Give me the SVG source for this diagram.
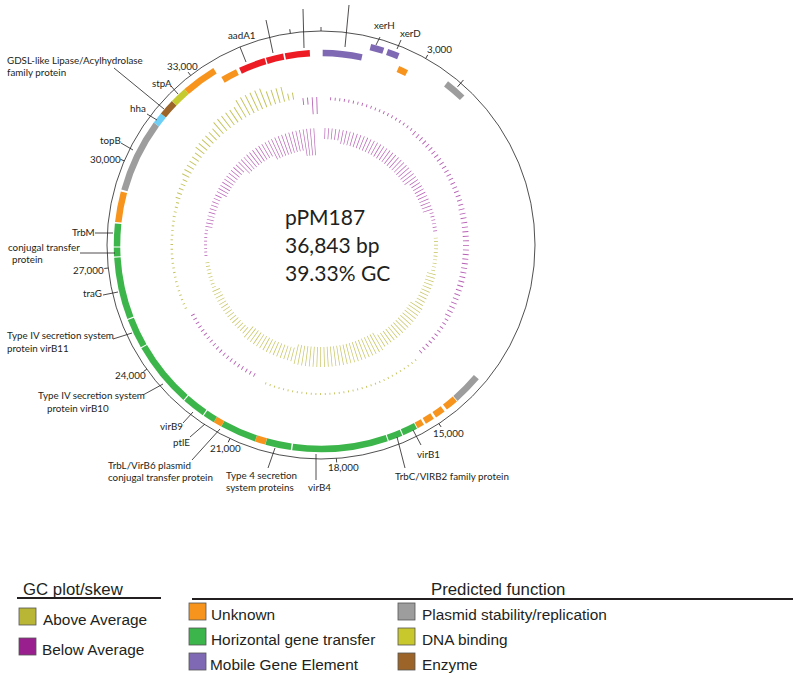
<svg xmlns="http://www.w3.org/2000/svg" width="800" height="679" viewBox="0 0 800 679">
<style>
.bb{fill:none;stroke:#3c3c3c;stroke-width:0.9}
.f{fill:none;stroke-width:6.5}
.o{stroke:#f7941d}.g{stroke:#3cb54a}.r{stroke:#ed1c24}.p{stroke:#7f69b4}.gr{stroke:#9d9d9d}.y{stroke:#c5cb2f}.b{stroke:#9c6428}.c{stroke:#6dcff6}
.ld{stroke:#231f20;stroke-width:0.8;fill:none}
.tk{stroke:#231f20;stroke-width:0.8}
.lbl{font-family:Lato,"Liberation Sans",sans-serif;font-size:9.8px;fill:#231f20}
.ctr{font-family:Lato,"Liberation Sans",sans-serif;font-size:21px;fill:#231f20}
.lgt{font-family:"Liberation Sans",Arial,sans-serif;font-size:16.8px;fill:#231f20}
.lg{font-family:"Liberation Sans",Arial,sans-serif;font-size:15.4px;fill:#231f20}
.sw{stroke:#555;stroke-width:0.8}
.gol{fill:none;stroke:#c4c35c}
.gpu{fill:none;stroke:#b65eb4}
.n2{stroke-dasharray:.35 1.45 .35 360}
.n4{stroke-dasharray:.35 1.45 .35 1.45 .35 1.45 .35 360}
.n5{stroke-dasharray:.35 1.45 .35 1.45 .35 1.45 .35 1.45 .35 360}
.n6{stroke-dasharray:.35 1.45 .35 1.45 .35 1.45 .35 1.45 .35 1.45 .35 360}
.n8{stroke-dasharray:.35 1.45 .35 1.45 .35 1.45 .35 1.45 .35 1.45 .35 1.45 .35 1.45 .35 360}
.n10{stroke-dasharray:.35 1.45 .35 1.45 .35 1.45 .35 1.45 .35 1.45 .35 1.45 .35 1.45 .35 1.45 .35 1.45 .35 360}
.n15{stroke-dasharray:.35 1.45 .35 1.45 .35 1.45 .35 1.45 .35 1.45 .35 1.45 .35 1.45 .35 1.45 .35 1.45 .35 1.45 .35 1.45 .35 1.45 .35 1.45 .35 1.45 .35 360}
.n20{stroke-dasharray:.35 1.45 .35 1.45 .35 1.45 .35 1.45 .35 1.45 .35 1.45 .35 1.45 .35 1.45 .35 1.45 .35 1.45 .35 1.45 .35 1.45 .35 1.45 .35 1.45 .35 1.45 .35 1.45 .35 1.45 .35 1.45 .35 1.45 .35 360}
.n25{stroke-dasharray:.35 1.45 .35 1.45 .35 1.45 .35 1.45 .35 1.45 .35 1.45 .35 1.45 .35 1.45 .35 1.45 .35 1.45 .35 1.45 .35 1.45 .35 1.45 .35 1.45 .35 1.45 .35 1.45 .35 1.45 .35 1.45 .35 1.45 .35 1.45 .35 1.45 .35 1.45 .35 1.45 .35 1.45 .35 360}
</style>
<rect width="800" height="679" fill="#ffffff"/>

<g id="gc-content">
<circle class="gol n4" cx="321" cy="245" r="149.5" stroke-width="3" pathLength="360" transform="rotate(-169.2 321 245)"/>
<circle class="gol n5" cx="321" cy="245" r="150.5" stroke-width="5" pathLength="360" transform="rotate(-162 321 245)"/>
<circle class="gol n6" cx="321" cy="245" r="152" stroke-width="8" pathLength="360" transform="rotate(-153 321 245)"/>
<circle class="gol n6" cx="321" cy="245" r="153.5" stroke-width="11" pathLength="360" transform="rotate(-142.2 321 245)"/>
<circle class="gol n6" cx="321" cy="245" r="155.5" stroke-width="15" pathLength="360" transform="rotate(-131.4 321 245)"/>
<circle class="gol n6" cx="321" cy="245" r="158" stroke-width="20" pathLength="360" transform="rotate(-120.6 321 245)"/>
<circle class="gol n4" cx="321" cy="245" r="155.5" stroke-width="15" pathLength="360" transform="rotate(-109.8 321 245)"/>
<circle class="gol n2" cx="321" cy="245" r="151.5" stroke-width="7" pathLength="360" transform="rotate(-102.6 321 245)"/>
<circle class="gpu n2" cx="321" cy="245" r="144.5" stroke-width="7" pathLength="360" transform="rotate(-97.2 321 245)"/>
<circle class="gpu n2" cx="321" cy="245" r="139.5" stroke-width="17" pathLength="360" transform="rotate(-93.6 321 245)"/>
<circle class="gpu n20" cx="321" cy="245" r="146.5" stroke-width="3" pathLength="360" transform="rotate(-86.4 321 245)"/>
<circle class="gpu n20" cx="321" cy="245" r="145.5" stroke-width="5" pathLength="360" transform="rotate(-50.4 321 245)"/>
<circle class="gpu n25" cx="321" cy="245" r="145" stroke-width="6" pathLength="360" transform="rotate(-14.4 321 245)"/>
<circle class="gpu n10" cx="321" cy="245" r="146" stroke-width="4" pathLength="360" transform="rotate(30.6 321 245)"/>
<circle class="gol n20" cx="321" cy="245" r="149" stroke-width="2" pathLength="360" transform="rotate(50.4 321 245)"/>
<circle class="gol n15" cx="321" cy="245" r="149" stroke-width="2" pathLength="360" transform="rotate(86.4 321 245)"/>
<circle class="gpu n20" cx="321" cy="245" r="146" stroke-width="4" pathLength="360" transform="rotate(117 321 245)"/>
<circle class="gol n20" cx="321" cy="245" r="149.25" stroke-width="2.5" pathLength="360" transform="rotate(154.8 321 245)"/>
</g>

<g id="gc-skew">
<circle class="gpu n8" cx="321" cy="245" r="115.5" stroke-width="3" pathLength="360" transform="rotate(-185.4 321 245)"/>
<circle class="gpu n10" cx="321" cy="245" r="113.5" stroke-width="7" pathLength="360" transform="rotate(-171 321 245)"/>
<circle class="gpu n10" cx="321" cy="245" r="111.5" stroke-width="11" pathLength="360" transform="rotate(-153 321 245)"/>
<circle class="gpu n10" cx="321" cy="245" r="109" stroke-width="16" pathLength="360" transform="rotate(-135 321 245)"/>
<circle class="gpu n10" cx="321" cy="245" r="106.5" stroke-width="21" pathLength="360" transform="rotate(-117 321 245)"/>
<circle class="gpu n4" cx="321" cy="245" r="103.5" stroke-width="27" pathLength="360" transform="rotate(-99 321 245)"/>
<circle class="gpu n5" cx="321" cy="245" r="111.5" stroke-width="11" pathLength="360" transform="rotate(-88.2 321 245)"/>
<circle class="gpu n25" cx="321" cy="245" r="110" stroke-width="14" pathLength="360" transform="rotate(-79.2 321 245)"/>
<circle class="gpu n10" cx="321" cy="245" r="112" stroke-width="10" pathLength="360" transform="rotate(-34.2 321 245)"/>
<circle class="gpu n6" cx="321" cy="245" r="115" stroke-width="4" pathLength="360" transform="rotate(-16.2 321 245)"/>
<circle class="gol n10" cx="321" cy="245" r="115" stroke-width="4" pathLength="360" transform="rotate(-3.6 321 245)"/>
<circle class="gol n10" cx="321" cy="245" r="114" stroke-width="9" pathLength="360" transform="rotate(14.4 321 245)"/>
<circle class="gol n15" cx="321" cy="245" r="113" stroke-width="14" pathLength="360" transform="rotate(32.4 321 245)"/>
<circle class="gol n25" cx="321" cy="245" r="112" stroke-width="20" pathLength="360" transform="rotate(59.4 321 245)"/>
<circle class="gol n15" cx="321" cy="245" r="113" stroke-width="14" pathLength="360" transform="rotate(104.4 321 245)"/>
<circle class="gol n15" cx="321" cy="245" r="114" stroke-width="8" pathLength="360" transform="rotate(131.4 321 245)"/>
<circle class="gol n8" cx="321" cy="245" r="115" stroke-width="4" pathLength="360" transform="rotate(158.4 321 245)"/>
</g>

<g id="backbone">
<circle class="bb" cx="321" cy="245" r="214"/>
</g>

<g id="features">
<g id="inner-strand">
<circle class="f p" cx="321" cy="245" r="192" pathLength="360" stroke-dasharray="11.8 360" transform="rotate(-89.5 321 245)"/>
<circle class="f o" cx="321" cy="245" r="192" pathLength="360" stroke-dasharray="2.9 360" transform="rotate(-66.4 321 245)"/>
<circle class="f r" cx="321" cy="245" r="192" pathLength="360" stroke-dasharray="8 360" transform="rotate(-114.8 321 245)"/>
<circle class="f r" cx="321" cy="245" r="192" pathLength="360" stroke-dasharray="5.2 360" transform="rotate(-106.4 321 245)"/>
<circle class="f r" cx="321" cy="245" r="192" pathLength="360" stroke-dasharray="7.4 360" transform="rotate(-100.7 321 245)"/>
<circle class="f o" cx="321" cy="245" r="192" pathLength="360" stroke-dasharray="4.9 360" transform="rotate(-120.7 321 245)"/>
</g>
<g id="outer-strand">
<circle class="f p" cx="321" cy="245" r="204" pathLength="360" stroke-dasharray="3.8 360" transform="rotate(-76 321 245)"/>
<circle class="f p" cx="321" cy="245" r="204" pathLength="360" stroke-dasharray="3.4 360" transform="rotate(-71.1 321 245)"/>
<circle class="f gr" cx="321" cy="245" r="204" pathLength="360" stroke-dasharray="6 360" transform="rotate(-52.2 321 245)"/>
<circle class="f gr" cx="321" cy="245" r="204" pathLength="360" stroke-dasharray="8.4 360" transform="rotate(40.4 321 245)"/>
<circle class="f o" cx="321" cy="245" r="204" pathLength="360" stroke-dasharray="3.6 360" transform="rotate(49 321 245)"/>
<circle class="f o" cx="321" cy="245" r="204" pathLength="360" stroke-dasharray="2.9 360" transform="rotate(53.4 321 245)"/>
<circle class="f o" cx="321" cy="245" r="204" pathLength="360" stroke-dasharray="2.6 360" transform="rotate(57 321 245)"/>
<circle class="f o" cx="321" cy="245" r="204" pathLength="360" stroke-dasharray="2 360" transform="rotate(60.2 321 245)"/>
<circle class="f g" cx="321" cy="245" r="204" pathLength="360" stroke-dasharray="4.2 360" transform="rotate(62.4 321 245)"/>
<circle class="f g" cx="321" cy="245" r="204" pathLength="360" stroke-dasharray="4 360" transform="rotate(66.9 321 245)"/>
<circle class="f g" cx="321" cy="245" r="204" pathLength="360" stroke-dasharray="26.8 360" transform="rotate(71.2 321 245)"/>
<circle class="f g" cx="321" cy="245" r="204" pathLength="360" stroke-dasharray="7.2 360" transform="rotate(98.4 321 245)"/>
<circle class="f o" cx="321" cy="245" r="204" pathLength="360" stroke-dasharray="3 360" transform="rotate(105.6 321 245)"/>
<circle class="f g" cx="321" cy="245" r="204" pathLength="360" stroke-dasharray="10.2 360" transform="rotate(108.6 321 245)"/>
<circle class="f o" cx="321" cy="245" r="204" pathLength="360" stroke-dasharray="2.4 360" transform="rotate(118.8 321 245)"/>
<circle class="f g" cx="321" cy="245" r="204" pathLength="360" stroke-dasharray="3.3 360" transform="rotate(121.2 321 245)"/>
<circle class="f g" cx="321" cy="245" r="204" pathLength="360" stroke-dasharray="6.5 360" transform="rotate(124.8 321 245)"/>
<circle class="f g" cx="321" cy="245" r="204" pathLength="360" stroke-dasharray="18.5 360" transform="rotate(131.6 321 245)"/>
<circle class="f g" cx="321" cy="245" r="204" pathLength="360" stroke-dasharray="8.4 360" transform="rotate(150.4 321 245)"/>
<circle class="f g" cx="321" cy="245" r="204" pathLength="360" stroke-dasharray="17.4 360" transform="rotate(159.1 321 245)"/>
<circle class="f g" cx="321" cy="245" r="204" pathLength="360" stroke-dasharray="2.5 360" transform="rotate(176.8 321 245)"/>
<circle class="f g" cx="321" cy="245" r="204" pathLength="360" stroke-dasharray="6.4 360" transform="rotate(179.6 321 245)"/>
<circle class="f o" cx="321" cy="245" r="204" pathLength="360" stroke-dasharray="8.6 360" transform="rotate(186.4 321 245)"/>
<circle class="f gr" cx="321" cy="245" r="204" pathLength="360" stroke-dasharray="20.7 360" transform="rotate(195.5 321 245)"/>
<circle class="f c" cx="321" cy="245" r="204" pathLength="360" stroke-dasharray="3.2 360" transform="rotate(216.2 321 245)"/>
<circle class="f b" cx="321" cy="245" r="204" pathLength="360" stroke-dasharray="4.6 360" transform="rotate(219.4 321 245)"/>
<circle class="f y" cx="321" cy="245" r="204" pathLength="360" stroke-dasharray="4.8 360" transform="rotate(224 321 245)"/>
<circle class="f o" cx="321" cy="245" r="204" pathLength="360" stroke-dasharray="9.9 360" transform="rotate(228.8 321 245)"/>
</g>
</g>

<g id="ticks">
<line class="tk" x1="321" y1="31" x2="321" y2="27"/>
<line class="tk" x1="321" y1="31" x2="321" y2="27" transform="rotate(29.31 321 245)"/>
<line class="tk" x1="321" y1="31" x2="321" y2="27" transform="rotate(-8.24 321 245)"/>
<line class="tk" x1="321" y1="31" x2="321" y2="27" transform="rotate(-37.55 321 245)"/>
<line class="tk" x1="321" y1="31" x2="321" y2="27" transform="rotate(-66.86 321 245)"/>
<line class="tk" x1="321" y1="31" x2="321" y2="27" transform="rotate(-96.18 321 245)"/>
<line class="tk" x1="321" y1="31" x2="321" y2="27" transform="rotate(-125.49 321 245)"/>
<line class="tk" x1="321" y1="31" x2="321" y2="27" transform="rotate(-154.8 321 245)"/>
<line class="tk" x1="321" y1="31" x2="321" y2="27" transform="rotate(175.88 321 245)"/>
<line class="tk" x1="321" y1="31" x2="321" y2="27" transform="rotate(146.57 321 245)"/>
<line class="tk" x1="321" y1="36" x2="321" y2="27" transform="rotate(40.8 321 245)"/>
<text class="lbl" x="427" y="52.7">3,000</text>
<text class="lbl" x="167" y="70">33,000</text>
<text class="lbl" x="90" y="163">30,000</text>
<text class="lbl" x="73" y="274">27,000</text>
<text class="lbl" x="115" y="379">24,000</text>
<text class="lbl" x="210" y="451.7">21,000</text>
<text class="lbl" x="328" y="471">18,000</text>
<text class="lbl" x="433" y="436.7">15,000</text>
</g>

<g id="connectors">
<line class="ld" x1="114" y1="68" x2="164" y2="109"/>
<line class="ld" x1="171" y1="86" x2="178" y2="94"/>
<line class="ld" x1="147" y1="114" x2="157" y2="120"/>
<line class="ld" x1="121" y1="143" x2="133" y2="150"/>
<line class="ld" x1="240" y1="47" x2="246" y2="62"/>
<line class="ld" x1="266" y1="20" x2="273" y2="53"/>
<line class="ld" x1="303" y1="9" x2="304" y2="48"/>
<line class="ld" x1="349" y1="5" x2="345" y2="47"/>
<line class="ld" x1="380" y1="37" x2="376" y2="45"/>
<line class="ld" x1="401" y1="40" x2="397" y2="49"/>
<line class="ld" x1="95" y1="233" x2="113" y2="233"/>
<line class="ld" x1="80" y1="253" x2="115" y2="253"/>
<line class="ld" x1="103" y1="295" x2="118" y2="292"/>
<line class="ld" x1="113" y1="339" x2="132" y2="333"/>
<line class="ld" x1="143" y1="395" x2="163" y2="384"/>
<line class="ld" x1="183" y1="423" x2="193" y2="412"/>
<line class="ld" x1="190" y1="437" x2="205" y2="424"/>
<line class="ld" x1="192" y1="460" x2="220" y2="429"/>
<line class="ld" x1="268" y1="468" x2="275" y2="448"/>
<line class="ld" x1="316" y1="480" x2="316" y2="454"/>
<line class="ld" x1="405" y1="468" x2="397" y2="437"/>
<line class="ld" x1="421" y1="445" x2="413" y2="430"/>
</g>

<g id="labels">
<g id="lbl-gdsl"><text class="lbl" x="7" y="64">GDSL-like Lipase/Acylhydrolase</text><text class="lbl" x="7" y="76">family protein</text></g>
<g id="lbl-stpA"><text class="lbl" x="152" y="87">stpA</text></g>
<g id="lbl-hha"><text class="lbl" x="130" y="111.7">hha</text></g>
<g id="lbl-topB"><text class="lbl" x="100" y="144">topB</text></g>
<g id="lbl-aadA1"><text class="lbl" x="228" y="39">aadA1</text></g>
<g id="lbl-xerH"><text class="lbl" x="374" y="29">xerH</text></g>
<g id="lbl-xerD"><text class="lbl" x="400" y="36.7">xerD</text></g>
<g id="lbl-TrbM"><text class="lbl" x="72" y="235.7">TrbM</text></g>
<g id="lbl-conj"><text class="lbl" x="8" y="251">conjugal transfer</text><text class="lbl" x="12" y="262.7">protein</text></g>
<g id="lbl-traG"><text class="lbl" x="83" y="297">traG</text></g>
<g id="lbl-virB11"><text class="lbl" x="7" y="339.3">Type IV secretion system</text><text class="lbl" x="7" y="352">protein virB11</text></g>
<g id="lbl-virB10"><text class="lbl" x="38" y="399.3">Type IV secretion system</text><text class="lbl" x="47" y="412.3">protein virB10</text></g>
<g id="lbl-virB9"><text class="lbl" x="160" y="430">virB9</text></g>
<g id="lbl-ptlE"><text class="lbl" x="173" y="445.7">ptlE</text></g>
<g id="lbl-TrbL"><text class="lbl" x="108" y="469">TrbL/VirB6 plasmid</text><text class="lbl" x="108" y="481">conjugal transfer protein</text></g>
<g id="lbl-type4"><text class="lbl" x="226" y="479.3">Type 4 secretion</text><text class="lbl" x="226" y="490.7">system proteins</text></g>
<g id="lbl-virB4"><text class="lbl" x="308" y="490.7">virB4</text></g>
<g id="lbl-TrbC"><text class="lbl" x="395" y="480">TrbC/VIRB2 family protein</text></g>
<g id="lbl-virB1"><text class="lbl" x="417" y="457.7">virB1</text></g>
</g>

<g id="title">
<text class="ctr" x="285" y="225">pPM187</text>
<text class="ctr" x="285" y="253">36,843 bp</text>
<text class="ctr" x="285" y="281">39.33% GC</text>
</g>

<g id="legend-gc">
<text class="lgt" x="23" y="595">GC plot/skew</text>
<line x1="17" y1="598" x2="161" y2="598" stroke="#231f20" stroke-width="2"/>
<rect class="sw" x="19" y="608" width="17" height="17" fill="#b8b634"/>
<text class="lg" x="43" y="625">Above Average</text>
<rect class="sw" x="19" y="638" width="17" height="17" fill="#9a1f8e"/>
<text class="lg" x="42" y="655">Below Average</text>
</g>

<g id="legend-function">
<text class="lgt" x="431" y="595">Predicted function</text>
<line x1="192" y1="599" x2="793" y2="599" stroke="#231f20" stroke-width="2"/>
<rect class="sw" x="189" y="603" width="17" height="17" fill="#f7941d"/>
<text class="lg" x="211" y="620">Unknown</text>
<rect class="sw" x="189" y="628" width="17" height="17" fill="#3cb54a"/>
<text class="lg" x="211" y="645">Horizontal gene transfer</text>
<rect class="sw" x="189" y="653" width="17" height="17" fill="#7f69b4"/>
<text class="lg" x="210" y="670">Mobile Gene Element</text>
<rect class="sw" x="398" y="603" width="17" height="17" fill="#9d9d9d"/>
<text class="lg" x="422" y="620">Plasmid stability/replication</text>
<rect class="sw" x="398" y="628" width="17" height="17" fill="#c8c82c"/>
<text class="lg" x="422" y="645">DNA binding</text>
<rect class="sw" x="398" y="653" width="17" height="17" fill="#9c6428"/>
<text class="lg" x="422" y="670">Enzyme</text>
</g>
</svg>
